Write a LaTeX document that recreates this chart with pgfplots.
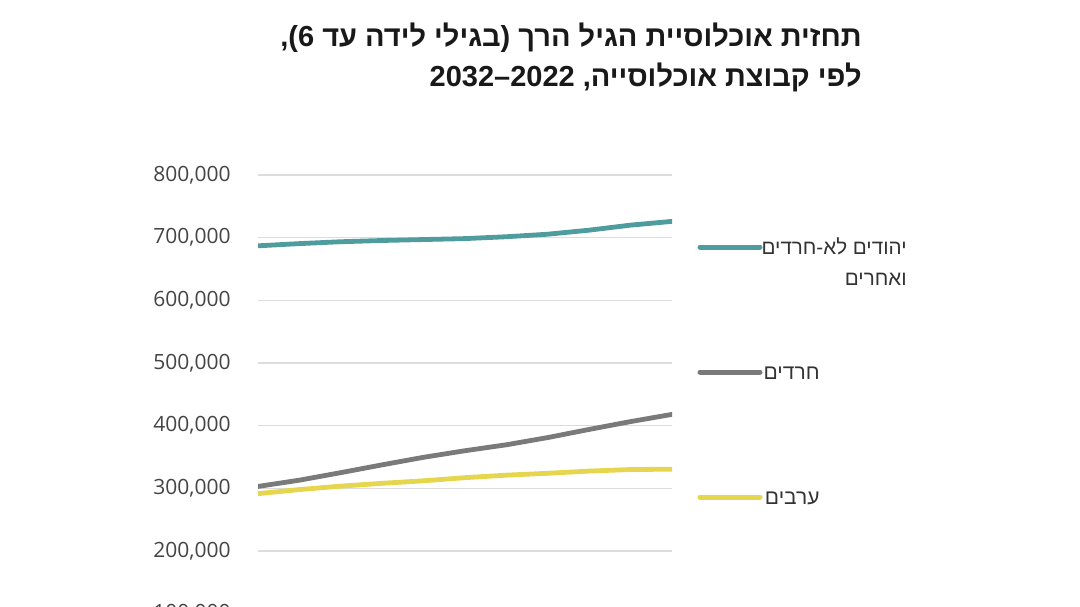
\documentclass[border=0pt]{standalone}
\usepackage{fontspec}
\setmainfont{Liberation Sans}
\newfontfamily\hebfont[Script=Hebrew]{Liberation Sans}
\newfontfamily\tickfont{Open Sans}
\TeXXeTstate=1
\usepackage{pgfplots}
\usepackage{pgfplotstable}
\pgfplotsset{compat=1.18}
\definecolor{tealc}{HTML}{4F9C9F}
\definecolor{grayc}{HTML}{7A7A7A}
\definecolor{yellc}{HTML}{E6D64E}
\definecolor{gridc}{HTML}{DCDCDC}
\definecolor{tickc}{HTML}{454545}
\definecolor{textc}{HTML}{333333}

\pgfplotstableread{
year value
2022 687000
2023 690500
2024 693500
2025 695500
2026 697000
2027 698500
2028 701500
2029 705500
2030 712000
2031 720000
2032 726000
}\jewsdata
\pgfplotstableread{
year value
2022 303000
2023 313000
2024 325000
2025 337500
2026 349500
2027 360000
2028 369500
2029 381000
2030 394000
2031 406500
2032 418000
}\haredidata
\pgfplotstableread{
year value
2022 291500
2023 298000
2024 303500
2025 308000
2026 312000
2027 317000
2028 321000
2029 324000
2030 327500
2031 330000
2032 330500
}\arabdata

\begin{document}
\begin{tikzpicture}
\useasboundingbox (0,0) rectangle (540pt,303pt);
\clip (0,0) rectangle (540pt,303pt);
\fill[white] (0,0) rectangle (540pt,303pt);
% title
\node[anchor=base east, inner sep=0pt, text=black!90] at (431pt,279.5pt)
  {\hebfont\bfseries\fontsize{14.5}{16}\selectfont\beginR תחזית אוכלוסיית הגיל הרך (בגילי לידה עד 6),\endR};
\node[anchor=base east, inner sep=0pt, text=black!90] at (431pt,259.5pt)
  {\hebfont\bfseries\fontsize{14.5}{16}\selectfont\beginR לפי קבוצת אוכלוסייה, 2022–2032\endR};
\begin{axis}[
  at={(129pt,-35.15pt)}, anchor=south west,
  scale only axis, width=207pt, height=250.65pt,
  xmin=2022, xmax=2032, ymin=0, ymax=800000,
  axis line style={draw=none},
  xtick=\empty,
  ytick={0,100000,200000,300000,400000,500000,600000,700000,800000},
  scaled y ticks=false,
  ymajorgrids,
  major grid style={draw=gridc, line width=0.6pt},
  major tick length=0pt,
  yticklabel style={font=\tickfont\fontsize{10.5}{12}\selectfont, text=tickc,
    anchor=east, inner sep=0pt, xshift=-13.5pt,
    /pgf/number format/fixed, /pgf/number format/1000 sep={,},
    /pgf/number format/assume math mode=true},
]
\addplot[tealc, line width=2.4pt, line join=round, line cap=round] table[x=year,y=value] {\jewsdata};
\addplot[grayc, line width=2.4pt, line join=round, line cap=round] table[x=year,y=value] {\haredidata};
\addplot[yellc, line width=2.4pt, line join=round, line cap=round] table[x=year,y=value] {\arabdata};
\end{axis}
% legend
\draw[tealc, line width=2.5pt, line cap=round] (350pt,179.5pt) -- (380pt,179.5pt);
\draw[grayc, line width=2.5pt, line cap=round] (350pt,117pt) -- (380pt,117pt);
\draw[yellc, line width=2.5pt, line cap=round] (350pt,54.5pt) -- (380pt,54.5pt);
\node[anchor=base east, inner sep=0pt, text=textc] at (453.5pt,176pt)
  {\hebfont\fontsize{10.3}{12}\selectfont\beginR יהודים לא-חרדים\endR};
\node[anchor=base east, inner sep=0pt, text=textc] at (453.5pt,160.5pt)
  {\hebfont\fontsize{10.3}{12}\selectfont\beginR ואחרים\endR};
\node[anchor=base east, inner sep=0pt, text=textc] at (410pt,113.5pt)
  {\hebfont\fontsize{10.5}{12}\selectfont\beginR חרדים\endR};
\node[anchor=base east, inner sep=0pt, text=textc] at (410pt,51pt)
  {\hebfont\fontsize{10.5}{12}\selectfont\beginR ערבים\endR};
\end{tikzpicture}
\end{document}
